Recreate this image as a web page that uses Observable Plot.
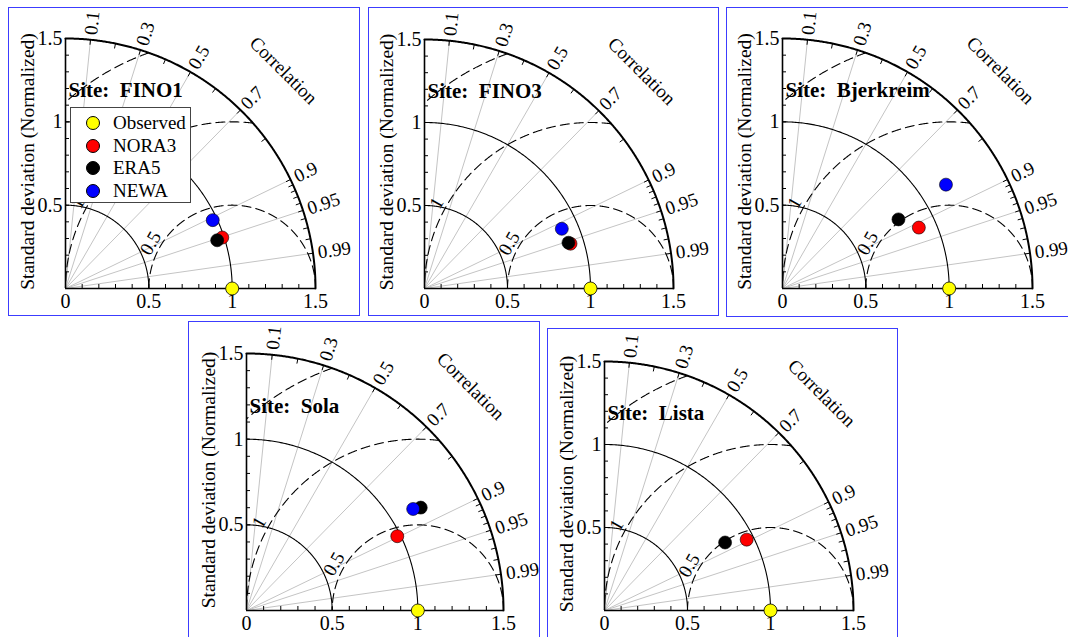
<!DOCTYPE html>
<html><head><meta charset="utf-8">
<script src="https://cdn.jsdelivr.net/npm/d3@7"></script>
<script src="https://cdn.jsdelivr.net/npm/@observablehq/plot@0.6"></script>
<style>
html,body{margin:0;padding:0;background:#fff;}
body{width:1068px;height:637px;overflow:hidden;position:relative;font-family:"Liberation Serif","Times New Roman",serif;}
.panel{position:absolute;overflow:hidden;background:#fff;}
.panel svg{display:block;}
.frame{position:absolute;border:1px solid #3c3cff;box-sizing:border-box;pointer-events:none;}
svg text{white-space:pre;}
.legend{position:absolute;background:#fff;border:1px solid #444;box-sizing:border-box;font-size:19px;color:#000;}
.legend .row{position:absolute;left:0;height:22px;line-height:22px;white-space:nowrap;}
.legend .sw{position:absolute;width:12px;height:12px;border-radius:50%;border:1px solid #000;top:4px;}
.legend .lb{position:absolute;}
</style></head><body>
<script>
// ---------------- data ----------------
const sites = ["FINO1", "FINO3", "Bjerkreim", "Sola", "Lista"];
const models = ["NORA3", "ERA5", "NEWA"];
const modelColors = ["#ff0000", "#000000", "#0000ff"];
const observedLabel = "Observed";
const observedColor = "#ffff00";
const obsStd  = [1, 1, 1, 1, 1];
const obsCorr = [1, 1, 1, 1, 1];
// normalized standard deviation and correlation per site (order of sites)
const stdNORA3  = [0.989, 0.920, 0.896, 0.981, 0.957];
const corrNORA3 = [0.951, 0.956, 0.913, 0.897, 0.895];
const stdERA5   = [0.955, 0.910, 0.810, 1.181, 0.834];
const corrERA5  = [0.953, 0.953, 0.859, 0.861, 0.871];
const stdNEWA   = [0.974, 0.902, 1.162, 1.139, null];
const corrNEWA  = [0.907, 0.917, 0.844, 0.854, null];
// grid / axis definitions
const stdMax = 1.5;
const stdArcs = [0.5, 1.0];
const stdTickLabels = [0, 0.5, 1, 1.5];
const stdYTickLabels = [0.5, 1, 1.5];
const stdMinorTicks = [0.1,0.2,0.3,0.4,0.5,0.6,0.7,0.8,0.9,1.0,1.1,1.2,1.3,1.4];
const corrLines = [0.1, 0.3, 0.5, 0.7, 0.9, 0.95, 0.99];
const corrArcTicks = [0.1,0.2,0.3,0.4,0.5,0.6,0.7,0.8,0.9,0.91,0.92,0.93,0.94,0.95,0.96,0.97,0.98,0.99];
const rmsLevels = [0.5, 1.0, 1.5];
const rmsLabels = [0.5, 1];
const yTitle = "Standard deviation (Normalized)";
const corrTitle = "Correlation";

const stdBySeries = [stdNORA3, stdERA5, stdNEWA];
const corrBySeries = [corrNORA3, corrERA5, corrNEWA];

// ---------------- layout ----------------
const layout = [
  {left:8,   top:7,   w:352, h:309, ox:65,  oy:288, R:250},
  {left:368, top:7,   w:351, h:309, ox:424, oy:288, R:249},
  {left:726, top:7,   w:352, h:310, ox:782, oy:288, R:250},
  {left:188, top:321, w:352, h:320, ox:246, oy:610, R:257},
  {left:547, top:328, w:351, h:320, ox:604, oy:610, R:249}
];
const FONT = "Liberation Serif, Times New Roman, serif";
const FS = 19;

const px = (d) => d.std * d.corr;
const py = (d) => d.std * Math.sqrt(Math.max(0, 1 - d.corr * d.corr));

function circlePts(cx, r, a0, a1, n) {
  const out = [];
  for (let k = 0; k <= n; k++) {
    const a = (a0 + (a1 - a0) * k / n) * Math.PI / 180;
    out.push({x: cx + r * Math.cos(a), y: r * Math.sin(a)});
  }
  return out;
}

function makePanel(i) {
  const L = layout[i];
  const unit = L.R / stdMax; // px per data unit
  const mL = L.ox - L.left, mT = L.oy - L.R - L.top;
  const mR = L.w - mL - L.R, mB = L.h - (L.oy - L.top);

  const points = [];
  models.forEach((m, k) => {
    const s = stdBySeries[k][i], c = corrBySeries[k][i];
    if (s != null) points.push({model: m, color: modelColors[k], std: s, corr: c});
  });
  const obs = [{model: observedLabel, color: observedColor, std: obsStd[i], corr: obsCorr[i]}];

  const stdArcData = stdArcs.flatMap(r => circlePts(0, r, 0, 90, 180).map(p => ({...p, r})));
  const outerArc = circlePts(0, stdMax, 0, 90, 360);
  const rmsData = rmsLevels.flatMap(r =>
    circlePts(obsStd[i], r, 0, 180, 1440)
      .filter(p => p.x >= -1e-9 && p.y >= -1e-9 && p.x * p.x + p.y * p.y <= stdMax * stdMax + 1e-6)
      .map(p => ({...p, r})));

  const tickLen = 4 / unit;
  const arcTickLen = 5 / unit;

  const marks = [
    Plot.link(corrLines, {x1: 0, y1: 0, x2: c => stdMax * c, y2: c => stdMax * Math.sqrt(1 - c * c), stroke: "#c4c4c4", strokeWidth: 1}),
    Plot.line(stdArcData, {x: "x", y: "y", z: "r", stroke: "#000", strokeWidth: 1.1}),
    Plot.line(rmsData, {x: "x", y: "y", z: "r", stroke: "#000", strokeWidth: 1.1, strokeDasharray: "9,5"}),
    Plot.line(outerArc, {x: "x", y: "y", stroke: "#000", strokeWidth: 2}),
    Plot.ruleX([0], {y1: 0, y2: stdMax, stroke: "#000", strokeWidth: 1.6}),
    Plot.ruleY([0], {x1: 0, x2: stdMax, stroke: "#000", strokeWidth: 1.6}),
    Plot.ruleX(stdMinorTicks, {x: d => d, y1: 0, y2: tickLen, stroke: "#000", strokeWidth: 1}),
    Plot.ruleY(stdMinorTicks, {y: d => d, x1: 0, x2: tickLen, stroke: "#000", strokeWidth: 1}),
    Plot.link(corrArcTicks, {
      x1: c => stdMax * c, y1: c => stdMax * Math.sqrt(1 - c * c),
      x2: c => (stdMax - arcTickLen) * c, y2: c => (stdMax - arcTickLen) * Math.sqrt(1 - c * c),
      stroke: "#000", strokeWidth: 1}),
    Plot.text(stdTickLabels, {x: d => d, y: 0, text: d => String(d), dy: 5, lineAnchor: "top", fontSize: 20}),
    Plot.text(stdYTickLabels, {x: 0, y: d => d, text: d => String(d), dx: -3, textAnchor: "end", fontSize: 20}),
    Plot.text(corrLines, {
      x: c => (stdMax + 0.03) * c, y: c => (stdMax + 0.03) * Math.sqrt(1 - c * c),
      text: c => String(c), textAnchor: "start",
      rotate: c => -Math.acos(c) * 180 / Math.PI, fontSize: FS}),
    Plot.text(rmsLabels, {
      x: r => obsStd[i] + (r + 0.06) * Math.cos(151 * Math.PI / 180),
      y: r => (r + 0.06) * Math.sin(151 * Math.PI / 180),
      text: r => String(r), rotate: -60, fontSize: FS}),
    Plot.text([corrTitle], {x: 1.85 * Math.cos(Math.PI / 4), y: 1.85 * Math.sin(Math.PI / 4), text: d => d, rotate: 45, fontSize: FS}),
    Plot.text([yTitle], {frameAnchor: "left", text: d => d, dx: -38, dy: -2, rotate: -90, textAnchor: "middle", fontSize: 19.5}),
    Plot.text(["Site:  " + sites[i]], {x: 0, y: 1.19, text: d => d, dx: 3, textAnchor: "start", fontWeight: "bold", fontSize: 21}),
    Plot.dot(obs, {x: px, y: py, r: 6.5, fill: "color", stroke: "#000", strokeWidth: 0.8}),
    Plot.dot(points, {x: px, y: py, r: 6.5, fill: "color", stroke: "#000", strokeWidth: 0.6})
  ];

  const svg = Plot.plot({
    width: L.w, height: L.h,
    marginLeft: mL, marginRight: mR, marginTop: mT, marginBottom: mB,
    x: {domain: [0, stdMax], axis: null},
    y: {domain: [0, stdMax], axis: null},
    color: {type: "identity"},
    style: {fontFamily: FONT, fontSize: FS + "px", background: "transparent", color: "#000", overflow: "visible"},
    marks
  });

  const wrap = document.createElement("div");
  wrap.className = "panel";
  Object.assign(wrap.style, {left: L.left + "px", top: L.top + "px", width: L.w + "px", height: L.h + "px"});
  wrap.appendChild(svg);
  document.body.appendChild(wrap);
  const fr = document.createElement("div");
  fr.className = "frame";
  Object.assign(fr.style, {left: L.left + "px", top: L.top + "px", width: L.w + "px", height: L.h + "px"});
  document.body.appendChild(fr);

  if (i === 0) {
    const lg = document.createElement("div");
    lg.className = "legend";
    Object.assign(lg.style, {left: (L.ox + 5) + "px", top: "107px", width: "121px", height: "96px"});
    const entries = [{name: observedLabel, color: observedColor}].concat(models.map((m, k) => ({name: m, color: modelColors[k]})));
    entries.forEach((e, k) => {
      const row = document.createElement("div");
      row.className = "row";
      row.style.top = (4 + k * 22.7) + "px";
      row.style.width = "119px";
      const sw = document.createElement("div");
      sw.className = "sw";
      sw.style.left = "15px";
      sw.style.background = e.color;
      const lb = document.createElement("div");
      lb.className = "lb";
      lb.style.left = "42px";
      lb.textContent = e.name;
      row.appendChild(sw); row.appendChild(lb);
      lg.appendChild(row);
    });
    document.body.appendChild(lg);
  }
}

sites.forEach((s, i) => makePanel(i));
</script>
</body></html>
